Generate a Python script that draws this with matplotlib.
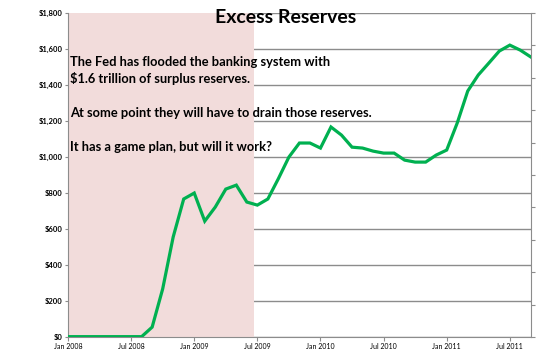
"""Excess reserves line chart with shaded period and annotation text."""

import matplotlib
matplotlib.use("Agg")
import matplotlib.pyplot as plt

# monthly excess reserves ($ billions), Jan 2008 .. Sep 2011
months = list(range(45))
reserves = [2, 2, 2, 2, 2, 2, 2, 2, 55, 267, 556, 767, 800, 644, 722, 822, 844, 750,
            733, 767, 880, 1000, 1078, 1078, 1050, 1167, 1122, 1055, 1050, 1033, 1022,
            1022, 983, 972, 972, 1011, 1039, 1189, 1367, 1456, 1522, 1589, 1622, 1594, 1556]
tick_months = [0, 6, 12, 18, 24, 30, 36, 42]
tick_labels = ["Jan 2008", "Jul 2008", "Jan 2009", "Jul 2009",
               "Jan 2010", "Jul 2010", "Jan 2011", "Jul 2011"]
y_ticks = list(range(0, 1801, 200))
shade_end = 17.7

notes = ["The Fed has flooded the banking system with",
         "$1.6 trillion of surplus reserves.",
         "",
         "At some point they will have to drain those reserves.",
         "",
         "It has a game plan, but will it work?"]

plt.rcParams['font.family'] = ['Lato', 'DejaVu Sans']

fig = plt.figure(figsize=(5.55, 3.54), dpi=100)
ax = fig.add_axes([0.1225, 0.048, 0.834, 0.915])

ax.set_axisbelow(True)
ax.yaxis.grid(True, color="#8c8c8c", linewidth=1.0)
ax.axvspan(0, shade_end, color="#f2dcdb", zorder=1, linewidth=0)
ax.plot(months, reserves, color="#00b050", linewidth=2.3, zorder=3, solid_joinstyle="miter")

ax.set_xlim(0, 44)
ax.set_ylim(0, 1800)
ax.set_yticks(y_ticks)
ax.set_yticklabels(["${:,}".format(v) for v in y_ticks], fontsize=5.5, fontweight="bold")
ax.set_xticks(tick_months)
ax.set_xticklabels(tick_labels, fontsize=5)
ax.tick_params(axis="x", length=3, color="#8c8c8c", pad=1)
ax.tick_params(axis="y", length=2, color="#8c8c8c", pad=2)
for side in ["top", "right"]:
    ax.spines[side].set_visible(False)
for side in ["left", "bottom"]:
    ax.spines[side].set_color("#8c8c8c")

# secondary axis on the right, ticks only
ax2 = ax.twinx()
ax2.set_ylim(0, 1800)
ax2.set_yticks(range(0, 1801, 180))
ax2.set_yticklabels([])
ax2.tick_params(axis="y", length=3, color="#8c8c8c")
for side in ["top", "left", "bottom"]:
    ax2.spines[side].set_visible(False)
ax2.spines["right"].set_color("#8c8c8c")

fig.text(0.515, 0.95, "Excess Reserves", ha="center", va="center",
         fontsize=14, fontweight="bold")

y = 0.825
for line in notes:
    fig.text(0.126, y, line, ha="left", va="center", fontsize=9.3, fontweight="bold")
    y -= 0.048

fig.savefig("out.png", dpi=100)
